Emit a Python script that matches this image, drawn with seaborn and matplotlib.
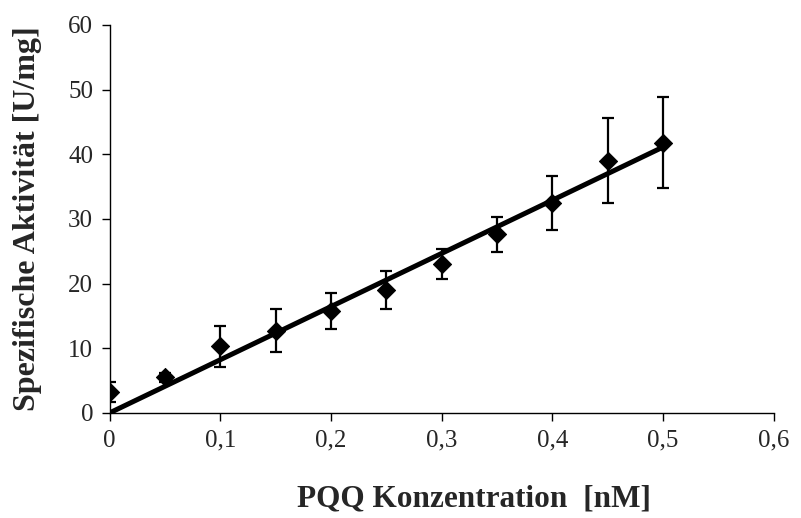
import numpy as np
import pandas as pd
import matplotlib
matplotlib.use("Agg")
import matplotlib.pyplot as plt
import seaborn as sns

# Daten
pqq_nM = [0, 0.05, 0.1, 0.15, 0.2, 0.25, 0.3, 0.35, 0.4, 0.45, 0.5]
aktivitaet = [3.2, 5.5, 10.3, 12.7, 15.8, 19.0, 23.0, 27.6, 32.5, 39.0, 41.8]
fehler = [1.5, 0.7, 3.2, 3.3, 2.8, 3.0, 2.3, 2.7, 4.2, 6.6, 7.0]
x_ticks = [0, 0.1, 0.2, 0.3, 0.4, 0.5, 0.6]
x_ticklabels = ["0", "0,1", "0,2", "0,3", "0,4", "0,5", "0,6"]
y_ticks = [0, 10, 20, 30, 40, 50, 60]

df = pd.DataFrame({"x": pqq_nM, "y": aktivitaet, "err": fehler})

sns.set_style("ticks")
plt.rcParams["font.family"] = ["Liberation Serif", "DejaVu Serif"]

fig = plt.figure(figsize=(8.01, 5.18), dpi=100)
ax = fig.add_axes([0.137, 0.203, 0.829, 0.749])

# Trendlinie durch den Ursprung
x = np.array(pqq_nM)
y = np.array(aktivitaet)
slope = (x * y).sum() / (x * x).sum()
fit = pd.DataFrame({"x": [0, 0.5], "y": [0, slope * 0.5]})
sns.lineplot(data=fit, x="x", y="y", ax=ax, color="black", lw=3.6, zorder=3)

ax.errorbar(df.x, df.y, yerr=df.err, fmt="none", ecolor="black",
            elinewidth=1.6, capsize=4.5, capthick=1.6, zorder=2)
sns.scatterplot(data=df, x="x", y="y", ax=ax, marker="D", s=85,
                color="black", edgecolor="black", zorder=4)

ax.set_xlim(0, 0.6)
ax.set_ylim(0, 60)
ax.set_xticks(x_ticks)
ax.set_xticklabels(x_ticklabels)
ax.set_yticks(y_ticks)
ax.tick_params(labelsize=18, length=6, width=1, color="black", pad=6)
for s in ["top", "right"]:
    ax.spines[s].set_visible(False)
for s in ["left", "bottom"]:
    ax.spines[s].set_color("black")
    ax.spines[s].set_linewidth(1)

ax.set_xlabel("PQQ Konzentration  [nM]", fontsize=22.5, fontweight="bold")
ax.xaxis.set_label_coords(0.548, -0.185)
ax.set_ylabel("Spezifische Aktivität [U/mg]", fontsize=23, fontweight="bold")
ax.yaxis.set_label_coords(-0.102, 0.5)

fig.savefig("out.png", dpi=100)
